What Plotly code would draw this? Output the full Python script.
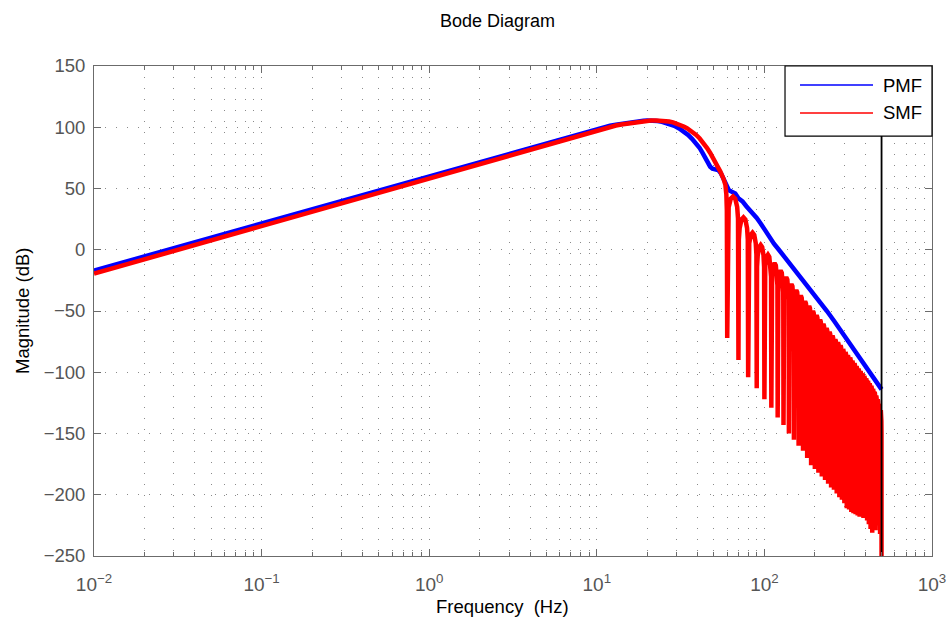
import plotly.graph_objects as go

# ---------------- data ----------------
# PMF (blue) magnitude, Hz / dB
pmf_f = [0.01, 0.1, 1, 2, 3, 4.5, 6, 8, 10, 11, 12, 13, 14, 15, 16, 17, 18, 19, 20,
         21.5, 23, 24.5, 26, 27.5, 29, 31, 33, 35, 37, 39, 41, 43, 44.5, 46, 47.5, 49,
         51, 53, 55, 57.5, 59.6, 61.5, 63.5, 67, 70, 74, 78, 82, 86, 90, 95, 100, 106,
         114, 122, 135, 150, 170, 190, 210, 236, 260, 300, 350, 400, 428, 460, 480, 500]
pmf_db = [-17, 21.5, 60, 71.8, 78.3, 85, 89.8, 94.8, 98.6, 100, 101.2, 102.1, 102.9,
          103.6, 104.2, 104.6, 105, 105.3, 105.5, 105.5, 105.1, 104.5, 103.6, 102.5,
          101.2, 99, 96.6, 93.8, 90.6, 87.2, 83.3, 78.5, 74.2, 70.5, 67.8, 66.2, 65.5,
          65, 62.5, 56.5, 50.5, 48.5, 47.5, 46, 42, 39.5, 35.5, 32.5, 29.5, 26, 21.5,
          16.5, 11, 5, 0, -7.5, -15.5, -25, -33.5, -41, -50, -58, -70, -83, -94, -100,
          -106.5, -110, -114]

# SMF (red) smooth part before the first notch
smf_f = [0.01, 0.1, 1, 2, 3, 4.5, 6, 8, 10, 11, 12, 13, 14, 15, 16, 17, 18, 19, 20, 21,
         22.5, 24, 25.5, 27, 28.5, 30, 31.5, 33, 34.5, 36, 37.5, 39, 41, 43, 45.5, 47.5,
         49.5, 52, 54.5, 57, 58.5, 59.3, 59.7]
smf_db = [-19.5, 19.5, 58.5, 70.3, 77, 84, 88.8, 93.8, 97.6, 99.1, 100.4, 101.4, 102.3,
          103.0, 103.6, 104.1, 104.6, 105.0, 105.3, 105.5, 105.6, 105.5, 105.2, 104.7,
          104.0, 103.1, 101.9, 100.6, 99.2, 97.7, 96, 94, 91, 87.8, 83, 79, 75, 70, 64,
          58, 53, 45, 32]

# SMF notches (Hz) and their depths (dB)
notch_f = [60, 70, 80, 90, 100, 110, 120, 130, 140, 150, 160, 170, 180, 190, 200,
           210, 220, 230, 240, 250, 260, 270, 280, 290, 300, 310, 320, 330, 340, 350,
           360, 370, 380, 390, 400, 410, 420, 430, 440, 450, 460, 470, 480, 490, 500]
notch_db = [-72, -90, -104, -113, -122, -129, -137, -143, -150, -155, -160, -164, -170,
            -176, -179, -182, -185, -188, -191, -194, -196, -199, -202, -204, -207, -211,
            -212, -214, -215, -216, -217, -218, -218, -219, -219, -221, -224, -228, -231,
            -226, -229, -220, -225, -232, -265]
# SMF lobe tops between consecutive notches (dB)
lobe_db = [43.5, 26.5, 14, 4, -4, -11, -17, -22.5, -28, -33, -37.5, -42, -46, -50,
           -53.5, -57, -60.5, -64, -67, -70, -73, -75.5, -78, -81, -83.5, -86, -88,
           -90.5, -92.5, -95, -97, -99, -101, -103, -105, -107, -109, -111, -113.5, -116,
           -119, -122, -126, -131]
# outline of one lobe: fraction of the notch spacing, dB below the lobe top
lobe_pos = [0.04, 0.12, 0.3, 0.5, 0.7, 0.88, 0.96]
lobe_off = [-18, -8.7, -1.8, 0, -1.8, -8.7, -18]

nyquist_f = 500

x_tickvals = [0.01, 0.1, 1, 10, 100, 1000]
x_ticktext = ["10<sup>\u22122</sup>", "10<sup>\u22121</sup>", "10<sup>0</sup>",
              "10<sup>1</sup>", "10<sup>2</sup>", "10<sup>3</sup>"]

# ---------------- build the SMF path ----------------
red_x = list(smf_f)
red_y = list(smf_db)
for i, (fn, dn) in enumerate(zip(notch_f, notch_db)):
    red_x.append(fn)
    red_y.append(dn)
    if i < len(lobe_db):
        span = notch_f[i + 1] - fn
        for p, o in zip(lobe_pos, lobe_off):
            red_x.append(fn + p * span)
            red_y.append(lobe_db[i] + o)

minor_vals = [m * 10 ** e for e in range(-2, 3) for m in range(2, 10)]

fig = go.Figure()
fig.add_trace(go.Scatter(x=pmf_f, y=pmf_db, mode="lines",
                         line=dict(color="#0000ff", width=4.5), showlegend=False))
fig.add_trace(go.Scatter(x=red_x, y=red_y, mode="lines",
                         line=dict(color="#ff0000", width=4.5), showlegend=False))
fig.add_trace(go.Scatter(x=[nyquist_f, nyquist_f], y=[-250, 150], mode="lines",
                         line=dict(color="black", width=1.8), showlegend=False))

grid_col = "#8a8a8a"
axis_col = "#6b6b6b"
font_fam = "Liberation Sans, Arial, Helvetica, sans-serif"

fig.update_layout(
    width=949, height=626,
    margin=dict(l=94, r=17, t=66, b=70),
    paper_bgcolor="white", plot_bgcolor="white",
    font=dict(family=font_fam, size=18, color="#555555"),
    xaxis=dict(type="log", range=[-2, 3], tickmode="array", tickvals=x_tickvals,
               ticktext=x_ticktext, ticks="inside", ticklen=7, tickcolor=axis_col,
               showline=True, linecolor=axis_col, linewidth=1, mirror="ticks",
               showgrid=True, gridcolor=grid_col, griddash="1px,10px", gridwidth=1,
               tickfont=dict(size=19, color="#555555"), ticklabelstandoff=11,
               automargin=False,
               minor=dict(tickmode="array", tickvals=minor_vals, ticks="inside",
                          ticklen=4, tickcolor=axis_col, showgrid=True,
                          gridcolor=grid_col, griddash="1px,10px", gridwidth=1),
               zeroline=False),
    yaxis=dict(range=[-250, 150], tickmode="linear", tick0=-250, dtick=50,
               ticks="inside", ticklen=7, tickcolor=axis_col,
               showline=True, linecolor=axis_col, linewidth=1, mirror="ticks",
               showgrid=True, gridcolor=grid_col, griddash="1px,10px", gridwidth=1,
               tickfont=dict(size=18.5, color="#555555"), ticklabelstandoff=4,
               automargin=False, zeroline=False),
)

# legend box (drawn manually to match the long sample lines)
lx0, lx1, ly0, ly1 = 0.8246, 1.0, 0.857, 1.0
fig.add_shape(type="rect", xref="paper", yref="paper", x0=lx0, x1=lx1, y0=ly0, y1=ly1,
              line=dict(color="black", width=1.2), fillcolor="white", layer="above")
fig.add_shape(type="line", xref="paper", yref="paper", x0=0.8425, x1=0.9296,
              y0=0.9612, y1=0.9612, line=dict(color="#0000ff", width=1.5), layer="above")
fig.add_shape(type="line", xref="paper", yref="paper", x0=0.8425, x1=0.9296,
              y0=0.9041, y1=0.9041, line=dict(color="#ff0000", width=1.5), layer="above")
for txt, yy in (("PMF", 0.9612), ("SMF", 0.9041)):
    fig.add_annotation(text=txt, xref="paper", yref="paper", x=0.9395, y=yy,
                       xanchor="left", yanchor="middle", showarrow=False,
                       font=dict(size=18.5, color="black", family=font_fam))

fig.add_annotation(text="Bode Diagram", xref="paper", yref="paper", x=0.4815, y=1.092,
                   xanchor="center", yanchor="middle", showarrow=False,
                   font=dict(size=18, color="black", family=font_fam))
fig.add_annotation(text="Frequency\u00a0 (Hz)", xref="paper", yref="paper", x=0.488,
                   y=-0.104, xanchor="center", yanchor="middle", showarrow=False,
                   font=dict(size=18.5, color="black", family=font_fam))
fig.add_annotation(text="Magnitude (dB)", xref="paper", yref="paper", x=-0.0859, y=0.5,
                   xanchor="center", yanchor="middle", showarrow=False, textangle=-90,
                   font=dict(size=18.5, color="black", family=font_fam))

fig.write_html("out.html")
